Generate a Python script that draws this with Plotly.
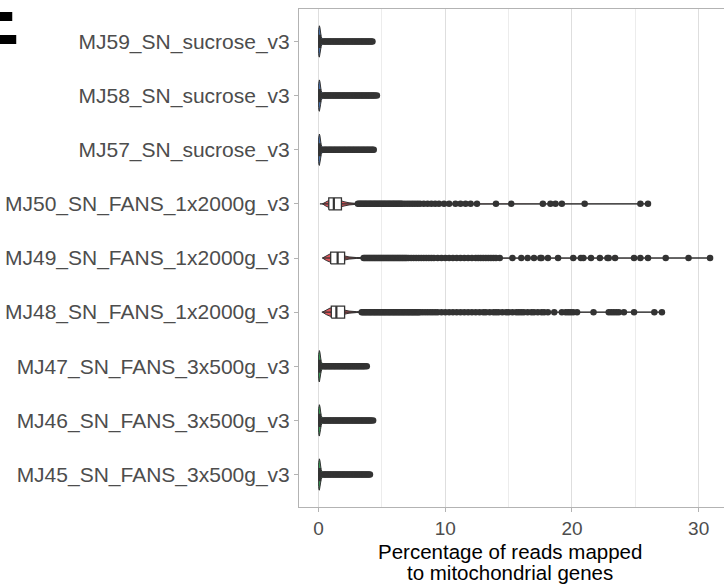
import plotly.graph_objects as go

# Samples, listed bottom to top
samples = [
    "MJ45_SN_FANS_3x500g_v3",
    "MJ46_SN_FANS_3x500g_v3",
    "MJ47_SN_FANS_3x500g_v3",
    "MJ48_SN_FANS_1x2000g_v3",
    "MJ49_SN_FANS_1x2000g_v3",
    "MJ50_SN_FANS_1x2000g_v3",
    "MJ57_SN_sucrose_v3",
    "MJ58_SN_sucrose_v3",
    "MJ59_SN_sucrose_v3",
]
groups = ["3x500g", "3x500g", "3x500g", "1x2000g", "1x2000g", "1x2000g",
          "sucrose", "sucrose", "sucrose"]
group_fill = {"3x500g": "#3BA55C", "1x2000g": "#E0565B", "sucrose": "#4A78B8"}

# Box statistics (% mito reads)
lower = [0.0, 0.0, 0.0, 0.25, 0.3, 0.1, 0.0, 0.0, 0.0]
q1 = [0.03, 0.03, 0.03, 1.0, 0.95, 0.8, 0.03, 0.03, 0.03]
med = [0.07, 0.07, 0.07, 1.4, 1.5, 1.2, 0.07, 0.07, 0.07]
q3 = [0.15, 0.15, 0.15, 2.05, 2.05, 1.8, 0.15, 0.15, 0.15]
upper = [0.32, 0.32, 0.32, 3.4, 3.5, 3.05, 0.32, 0.32, 0.32]

# Outlying cells per sample
out_mj45 = [0.35, 0.45, 0.55, 0.65, 0.75, 0.85, 0.95, 1.05, 1.15, 1.25, 1.35, 1.45,
            1.55, 1.65, 1.75, 1.85, 1.95, 2.05, 2.15, 2.25, 2.35, 2.45, 2.55, 2.65,
            2.75, 2.85, 2.95, 3.05, 3.15, 3.25, 3.35, 3.45, 3.55, 3.65, 3.75, 3.85,
            3.95, 4.05]
out_mj46 = [0.35, 0.45, 0.55, 0.65, 0.75, 0.85, 0.95, 1.05, 1.15, 1.25, 1.35, 1.45,
            1.55, 1.65, 1.75, 1.85, 1.95, 2.05, 2.15, 2.25, 2.35, 2.45, 2.55, 2.65,
            2.75, 2.85, 2.95, 3.05, 3.15, 3.25, 3.35, 3.45, 3.55, 3.65, 3.75, 3.85,
            3.95, 4.05, 4.15, 4.3]
out_mj47 = [0.35, 0.45, 0.55, 0.65, 0.75, 0.85, 0.95, 1.05, 1.15, 1.25, 1.35, 1.45,
            1.55, 1.65, 1.75, 1.85, 1.95, 2.05, 2.15, 2.25, 2.35, 2.45, 2.55, 2.65,
            2.75, 2.85, 2.95, 3.05, 3.15, 3.25, 3.35, 3.45, 3.55, 3.65, 3.8]
out_mj48 = [3.4, 3.5, 3.6, 3.7, 3.8, 3.9, 4.0, 4.1, 4.2, 4.3, 4.4, 4.5, 4.6, 4.7,
            4.8, 4.9, 5.0, 5.1, 5.2, 5.3, 5.4, 5.5, 5.6, 5.7, 5.8, 5.9, 6.0, 6.1,
            6.2, 6.3, 6.4, 6.5, 6.6, 6.7, 6.8, 6.9, 7.0, 7.1, 7.2, 7.3, 7.4, 7.5,
            7.6, 7.7, 7.8, 7.9, 8.0, 8.2, 8.4, 8.6, 8.8, 9.0, 9.2, 9.4, 9.7, 10.0,
            10.3, 10.6, 10.9, 11.2, 11.5, 11.8, 12.1, 12.4, 12.7, 13.0, 13.2, 13.5,
            13.8, 14.0, 14.2, 14.5, 14.8, 15.0, 15.3, 15.6, 15.8, 16.0, 16.2, 16.5,
            16.8, 17.0, 17.3, 17.6, 17.8, 18.1, 18.6, 19.2, 19.5, 19.7, 19.9, 20.1,
            20.4, 21.7, 22.9, 23.1, 23.3, 23.5, 23.7, 24.1, 24.9, 26.5, 27.1]
out_mj49 = [3.55, 3.65, 3.75, 3.85, 3.95, 4.05, 4.15, 4.25, 4.35, 4.45, 4.55, 4.65,
            4.75, 4.85, 4.95, 5.05, 5.15, 5.25, 5.35, 5.45, 5.55, 5.65, 5.75, 5.85,
            5.95, 6.05, 6.15, 6.25, 6.35, 6.45, 6.55, 6.65, 6.75, 6.85, 6.95, 7.1,
            7.3, 7.5, 7.7, 7.9, 8.1, 8.3, 8.5, 8.7, 8.9, 9.1, 9.4, 9.7, 10.0, 10.3,
            10.6, 10.9, 11.2, 11.5, 11.8, 12.1, 12.4, 12.6, 12.8, 13.0, 13.2, 13.4,
            13.6, 13.8, 14.0, 14.3, 15.3, 16.0, 16.5, 17.0, 17.5, 17.6, 18.1, 18.9,
            20.1, 20.7, 20.9, 21.5, 22.2, 22.8, 22.9, 23.4, 24.9, 25.4, 26.0, 27.4,
            29.2, 30.9]
out_mj50 = [3.1, 3.2, 3.3, 3.4, 3.5, 3.6, 3.7, 3.8, 3.9, 4.0, 4.1, 4.2, 4.3, 4.4,
            4.5, 4.6, 4.7, 4.8, 4.9, 5.0, 5.1, 5.2, 5.3, 5.4, 5.5, 5.6, 5.7, 5.8,
            5.9, 6.0, 6.1, 6.2, 6.3, 6.4, 6.5, 6.6, 6.8, 7.0, 7.2, 7.4, 7.6, 7.8,
            8.0, 8.3, 8.6, 8.9, 9.2, 9.5, 9.9, 10.3, 10.8, 11.2, 11.6, 12.0, 12.5,
            14.0, 15.2, 17.7, 18.3, 18.7, 19.2, 21.0, 25.4, 26.0]
out_mj57 = [0.35, 0.45, 0.55, 0.65, 0.75, 0.85, 0.95, 1.05, 1.15, 1.25, 1.35, 1.45,
            1.55, 1.65, 1.75, 1.85, 1.95, 2.05, 2.15, 2.25, 2.35, 2.45, 2.55, 2.65,
            2.75, 2.85, 2.95, 3.05, 3.15, 3.25, 3.35, 3.45, 3.55, 3.65, 3.75, 3.85,
            3.95, 4.05, 4.15, 4.25, 4.35]
out_mj58 = [0.35, 0.45, 0.55, 0.65, 0.75, 0.85, 0.95, 1.05, 1.15, 1.25, 1.35, 1.45,
            1.55, 1.65, 1.75, 1.85, 1.95, 2.05, 2.15, 2.25, 2.35, 2.45, 2.55, 2.65,
            2.75, 2.85, 2.95, 3.05, 3.15, 3.25, 3.35, 3.45, 3.55, 3.65, 3.75, 3.85,
            3.95, 4.05, 4.15, 4.25, 4.35, 4.45, 4.6]
out_mj59 = [0.35, 0.45, 0.55, 0.65, 0.75, 0.85, 0.95, 1.05, 1.15, 1.25, 1.35, 1.45,
            1.55, 1.65, 1.75, 1.85, 1.95, 2.05, 2.15, 2.25, 2.35, 2.45, 2.55, 2.65,
            2.75, 2.85, 2.95, 3.05, 3.15, 3.25, 3.35, 3.45, 3.55, 3.65, 3.75, 3.85,
            3.95, 4.05, 4.15, 4.25]
outliers = [out_mj45, out_mj46, out_mj47, out_mj48, out_mj49, out_mj50,
            out_mj57, out_mj58, out_mj59]

# Violin density profiles: value positions and half-widths (category units)
low_vx = [0.0, 0.03, 0.06, 0.1, 0.15, 0.2, 0.3, 0.5, 1.0, 2.0]
low_vw = [0.22, 0.28, 0.29, 0.26, 0.17, 0.09, 0.04, 0.012, 0.004, 0.001]
fans_vx = [0.3, 0.6, 0.9, 1.2, 1.6, 2.0, 2.4, 3.0, 5.0]
fans_vw = [0.0, 0.045, 0.075, 0.08, 0.07, 0.04, 0.02, 0.008, 0.002]

ink = "#333333"
box_half = 0.11
fig = go.Figure()

for i, name in enumerate(samples):
    pos = i + 1
    data_max = max(outliers[i])
    if groups[i] == "1x2000g":
        vx, vw = fans_vx, fans_vw
    else:
        vx, vw = low_vx, low_vw
    xs = [v for v in vx if v < data_max] + [data_max]
    ws = vw[:len(xs) - 1] + [0.0]
    poly_x = xs + xs[::-1] + [xs[0]]
    poly_y = [pos + w for w in ws] + [pos - w for w in ws[::-1]] + [pos + ws[0]]
    fig.add_trace(go.Scatter(
        x=poly_x, y=poly_y, mode="lines", fill="toself",
        fillcolor=group_fill[groups[i]], line=dict(color=ink, width=1),
        hoverinfo="skip", showlegend=False))

    # whiskers
    fig.add_trace(go.Scatter(
        x=[lower[i], q1[i], None, q3[i], upper[i]],
        y=[pos, pos, None, pos, pos], mode="lines",
        line=dict(color=ink, width=1.3), hoverinfo="skip", showlegend=False))
    # box body
    fig.add_trace(go.Scatter(
        x=[q1[i], q3[i], q3[i], q1[i], q1[i]],
        y=[pos - box_half, pos - box_half, pos + box_half, pos + box_half, pos - box_half],
        mode="lines", fill="toself", fillcolor="white",
        line=dict(color=ink, width=1.3), hoverinfo="skip", showlegend=False))
    # median
    fig.add_trace(go.Scatter(
        x=[med[i], med[i]], y=[pos - box_half, pos + box_half], mode="lines",
        line=dict(color=ink, width=2.2), hoverinfo="skip", showlegend=False))

    fig.add_trace(go.Scatter(
        x=outliers[i], y=[pos] * len(outliers[i]), mode="markers",
        marker=dict(color=ink, size=6.5, line=dict(width=0)),
        showlegend=False))

fig.add_annotation(
    text="<b>E</b>", xref="paper", yref="paper", x=-0.655, y=1.078,
    xanchor="right", yanchor="top", showarrow=False,
    font=dict(family="Liberation Sans", size=80, color="black"))

# two-line axis title
title_lines = ["Percentage of reads mapped", "to mitochondrial genes"]
for k, line in enumerate(title_lines):
    fig.add_annotation(
        text=line, xref="paper", yref="paper", x=0.5 + (510 - 511.5) / 425,
        y=-(551 + 21 * k - 507) / 498, xanchor="center", yanchor="middle",
        showarrow=False, font=dict(family="Liberation Sans", size=20.5, color="black"))

fig.update_layout(
    width=724, height=586,
    margin=dict(l=299, r=0, t=9, b=79),
    paper_bgcolor="white", plot_bgcolor="white",
    font=dict(family="Liberation Sans", color="#4d4d4d", size=17),
    xaxis=dict(
        range=[-1.55, 32.0], tickvals=[0, 10, 20, 30],
        showgrid=True, gridcolor="#dedede", gridwidth=1,
        minor=dict(dtick=5, tick0=0, showgrid=True, gridcolor="#ececec", gridwidth=1),
        showline=True, linecolor="#b3b3b3", linewidth=1, mirror=True,
        ticks="outside", ticklen=4, tickcolor="#b3b3b3",
        zeroline=False, tickfont=dict(size=19, color="#4d4d4d"),
    ),
    yaxis=dict(
        range=[0.4, 9.6], tickvals=list(range(1, 10)), ticktext=samples,
        showgrid=False, zeroline=False,
        showline=True, linecolor="#b3b3b3", linewidth=1,
        ticks="outside", ticklen=4, tickcolor="#b3b3b3",
        tickfont=dict(size=21, color="#4d4d4d"),
    ),
)

fig.write_html("out.html")
